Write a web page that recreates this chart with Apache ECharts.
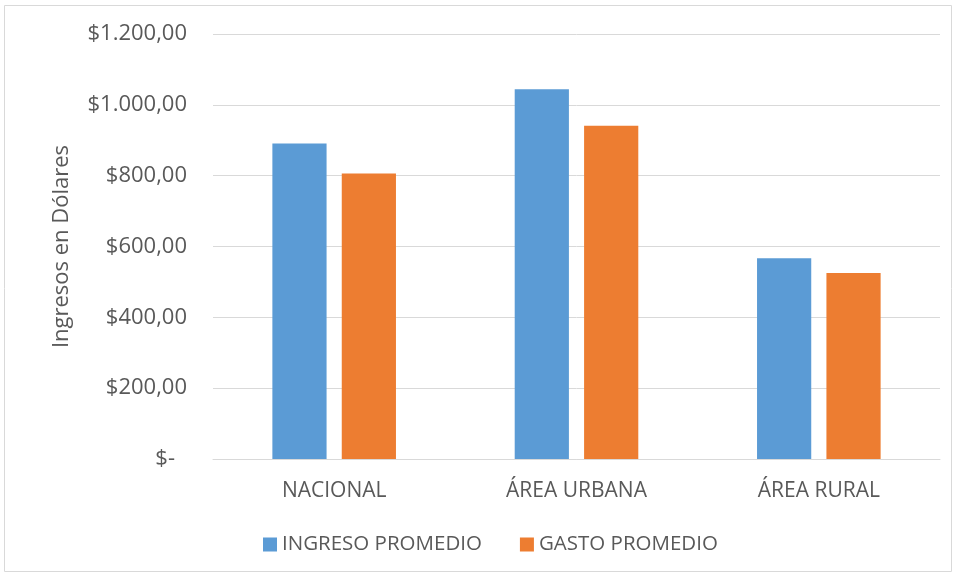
<!DOCTYPE html>
<html><head><meta charset="utf-8">
<script src="https://cdn.jsdelivr.net/npm/echarts@6/dist/echarts.min.js"></script>
<style>html,body{margin:0;padding:0;background:#fff}#c{width:957px;height:577px}</style>
</head><body><div id="c"></div>
<script>
var categories = ['NACIONAL', 'ÁREA URBANA', 'ÁREA RURAL'];
var ingresoPromedio = [891, 1044, 567];
var gastoPromedio = [806, 941, 525];
var seriesNames = ['INGRESO PROMEDIO', 'GASTO PROMEDIO'];
var yTicks = [0, 200, 400, 600, 800, 1000, 1200];

var FONT = 'Open Sans';
var chart = echarts.init(document.getElementById('c'));
function fmt(v) {
  if (v === 0) return '{z|$-}';
  var s = v.toFixed(2).split('.');
  var intPart = s[0].replace(/\B(?=(\d{3})+(?!\d))/g, '.');
  return '$' + intPart + ',' + s[1];
}
chart.setOption({
  animation: false,
  graphic: [{type: 'rect', shape: {x: 4.5, y: 5.5, width: 947, height: 566}, style: {fill: 'none', stroke: '#d9d9d9', lineWidth: 1}}],
  grid: {left: 213, right: 17, top: 34, bottom: 118},
  legend: {
    bottom: 17, left: 258, itemWidth: 14, itemHeight: 14, itemGap: 38,
    icon: 'rect',
    textStyle: {fontFamily: FONT, fontSize: 20.5, color: '#595959'},
    data: seriesNames
  },
  xAxis: {
    type: 'category', data: categories,
    axisLine: {lineStyle: {color: '#d9d9d9', width: 1}},
    axisTick: {show: false},
    axisLabel: {fontFamily: FONT, fontSize: 21, color: '#595959', margin: 22}
  },
  yAxis: {
    type: 'value', min: 0, max: 1200, interval: 200,
    name: 'Ingresos en Dólares', nameLocation: 'middle', nameGap: 140,
    nameTextStyle: {fontFamily: FONT, fontSize: 22, color: '#595959'},
    axisLine: {show: false}, axisTick: {show: false},
    splitLine: {lineStyle: {color: '#d9d9d9', width: 1}},
    axisLabel: {fontFamily: FONT, fontSize: 22, color: '#595959', margin: 26,
      formatter: fmt, rich: {z: {fontFamily: FONT, fontSize: 22, color: '#595959', padding: [0, 12, 0, 0]}}}
  },
  series: [
    {name: seriesNames[0], type: 'bar', data: ingresoPromedio, barGap: '28%', barCategoryGap: '49%',
      itemStyle: {color: '#5b9bd5'}},
    {name: seriesNames[1], type: 'bar', data: gastoPromedio,
      itemStyle: {color: '#ed7d31'}}
  ]
});
</script></body></html>
